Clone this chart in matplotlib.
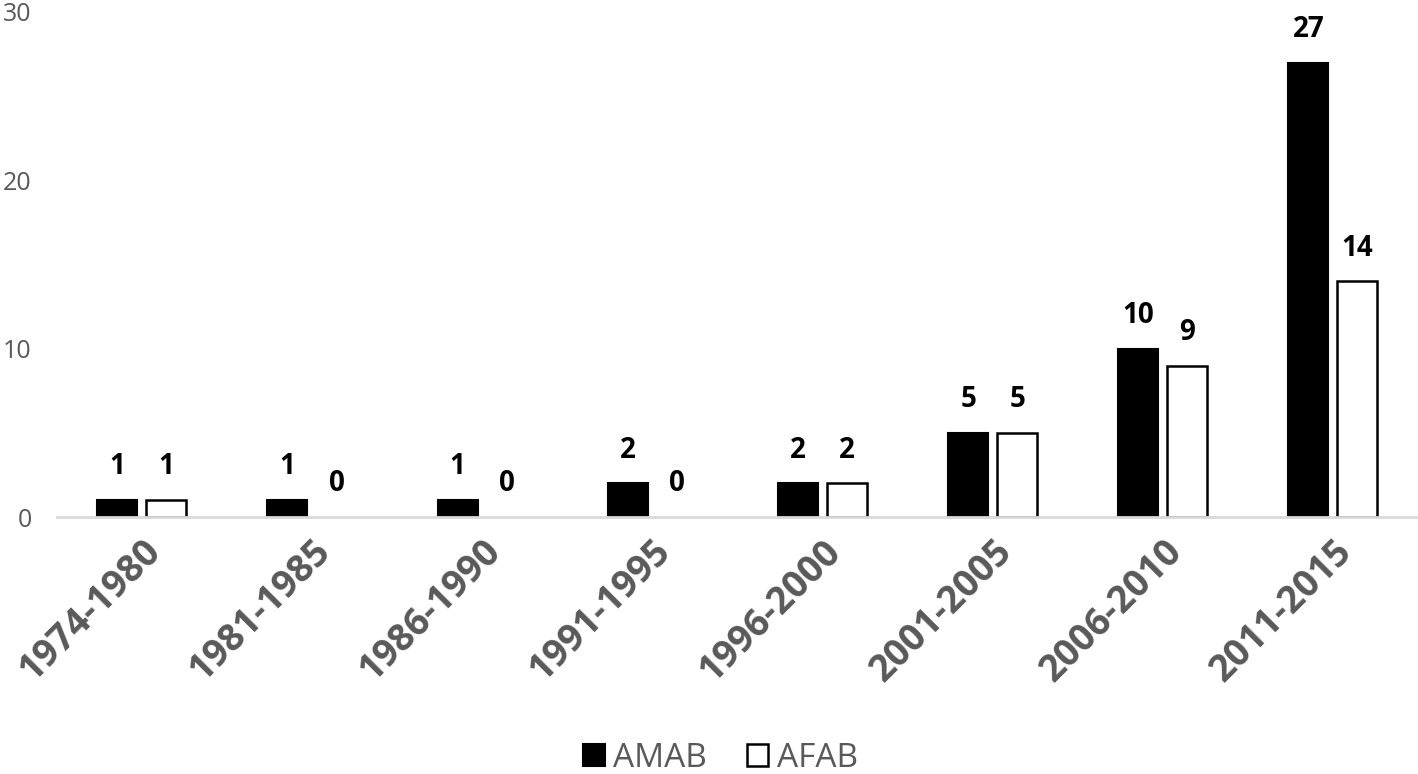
import numpy as np
import matplotlib.pyplot as plt

periods = ['1974-1980', '1981-1985', '1986-1990', '1991-1995',
           '1996-2000', '2001-2005', '2006-2010', '2011-2015']
amab = [1, 1, 1, 2, 2, 5, 10, 27]
afab = [1, 0, 0, 0, 2, 5, 9, 14]

plt.rcParams['font.family'] = ['Open Sans', 'DejaVu Sans']
grey = '#595959'

fig = plt.figure(figsize=(14.18, 7.74), dpi=100)
ax = fig.add_axes([0.040, 0.332, 0.960, 0.6525])

x = np.arange(len(periods))
w = 0.235
off = 0.144
b1 = ax.bar(x - off, amab, w, color='black', edgecolor='black', linewidth=1.5, label='AMAB')
b2 = ax.bar(x + off, afab, w, color='white', edgecolor='black', linewidth=1.8, label='AFAB')
# zero-height bars show no outline
for r, v in zip(b2, afab):
    if v == 0:
        r.set_linewidth(0)

for bars, vals in ((b1, amab), (b2, afab)):
    for r, v in zip(bars, vals):
        ax.annotate(str(v), (r.get_x() + r.get_width() / 2, v), xytext=(0, 24),
                    textcoords='offset points', ha='center', va='center',
                    fontsize=20, fontweight='bold', color='black')

ax.set_xlim(-0.5, len(periods) - 0.5)
ax.set_ylim(0, 30)
ax.set_yticks([0, 10, 20, 30])
ax.tick_params(axis='y', length=0, labelsize=18, labelcolor=grey, pad=18)
ax.set_xticks(x)
ax.set_xticklabels(periods, rotation=45, ha='right', rotation_mode='anchor',
                   fontsize=27, fontweight='bold', color=grey)
ax.tick_params(axis='x', length=0, pad=11)
for s in ('left', 'right', 'top'):
    ax.spines[s].set_visible(False)
ax.spines['bottom'].set_color('#d9d9d9')
ax.spines['bottom'].set_linewidth(2)

leg = fig.legend(loc='lower center', bbox_to_anchor=(0.508, -0.04), ncol=2, frameon=False,
                 fontsize=24, handlelength=0.65, handleheight=0.65, handletextpad=0.25,
                 columnspacing=1.2)
for t in leg.get_texts():
    t.set_color(grey)

fig.savefig('out.png', dpi=100)
